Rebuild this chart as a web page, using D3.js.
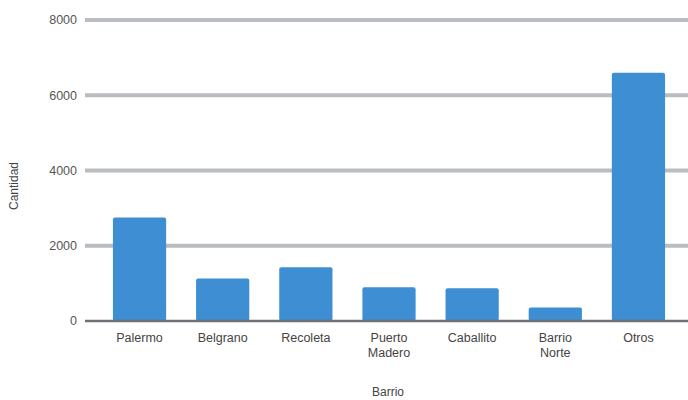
<!DOCTYPE html>
<html><head><meta charset="utf-8">
<script src="https://cdn.jsdelivr.net/npm/d3@7"></script>
<style>body{margin:0;background:#fff}svg{display:block}</style>
</head><body>
<svg id="c" width="688" height="400"></svg>
<script>
const categories = [["Palermo"],["Belgrano"],["Recoleta"],["Puerto","Madero"],["Caballito"],["Barrio","Norte"],["Otros"]];
const values = [2750, 1130, 1430, 900, 870, 360, 6600];
const yTicks = [0, 2000, 4000, 6000, 8000];
const xTitle = "Barrio";
const yTitle = "Cantidad";

const svg = d3.select("#c");
const font = "Liberation Sans, Arial, sans-serif";
const names = categories.map(c => c.join(" "));
const x = d3.scaleBand().domain(names).range([83, 695]).paddingInner(0.36).paddingOuter(0.36);
const y = d3.scaleLinear().domain([0, 8000]).range([321, 20]);

// grid
svg.append("g").selectAll("line").data(yTicks.filter(d => d > 0)).join("line")
  .attr("x1", 85).attr("x2", 700)
  .attr("y1", d => y(d)).attr("y2", d => y(d))
  .attr("stroke", "#b9bdc1").attr("stroke-width", 4);

// y labels
svg.append("g").selectAll("text").data(yTicks).join("text")
  .attr("x", 77).attr("y", d => y(d)).attr("dy", "0.35em")
  .attr("text-anchor", "end").attr("font-family", font).attr("font-size", 12.5)
  .attr("fill", "#555").text(d => d);

// bars
svg.append("g").selectAll("rect").data(values).join("rect")
  .attr("x", (d, i) => x(names[i])).attr("width", x.bandwidth())
  .attr("y", d => y(d)).attr("height", d => y(0) - y(d))
  .attr("rx", 2).attr("fill", "#3d8ed2");

// baseline
svg.append("line").attr("x1", 85).attr("x2", 700).attr("y1", y(0)).attr("y2", y(0))
  .attr("stroke", "#6d7175").attr("stroke-width", 2.5);

// x labels
const xl = svg.append("g").selectAll("text").data(categories).join("text")
  .attr("x", (d, i) => x(names[i]) + x.bandwidth() / 2).attr("y", 342)
  .attr("text-anchor", "middle").attr("font-family", font).attr("font-size", 12.5).attr("fill", "#444");
xl.selectAll("tspan").data(d => d).join("tspan")
  .attr("x", function() { return this.parentNode.getAttribute("x"); })
  .attr("dy", (d, i) => i === 0 ? 0 : 15).text(d => d);

// titles
svg.append("text").attr("x", 388).attr("y", 396).attr("text-anchor", "middle")
  .attr("font-family", font).attr("font-size", 12).attr("fill", "#444").text(xTitle);
svg.append("text").attr("transform", "translate(18,186) rotate(-90)").attr("text-anchor", "middle")
  .attr("font-family", font).attr("font-size", 12).attr("fill", "#444").text(yTitle);
</script>
</body></html>
